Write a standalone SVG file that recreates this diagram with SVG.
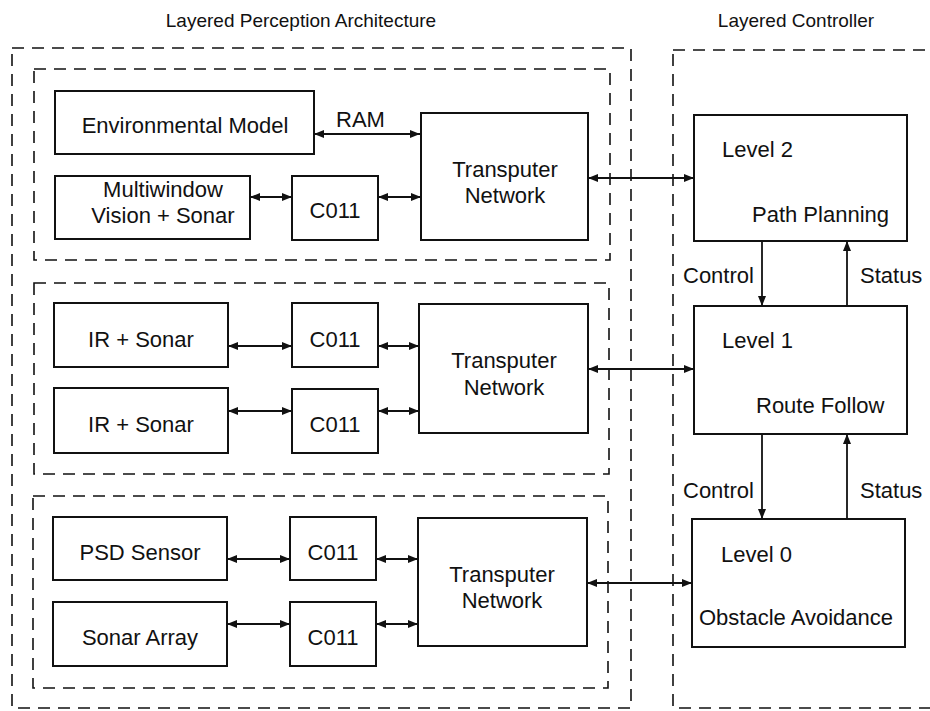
<svg xmlns="http://www.w3.org/2000/svg" width="930" height="711" viewBox="0 0 930 711">
<style>
  .bg{fill:#fff}
  .box{fill:#fff;stroke:#111;stroke-width:2}
  .dash{fill:none;stroke:#111;stroke-width:1.6;stroke-dasharray:12 8}
  .t{font-family:"Liberation Sans",Arial,sans-serif;font-size:22px;fill:#111}
  .title{font-family:"Liberation Sans",Arial,sans-serif;font-size:19px;fill:#111}
  .c{text-anchor:middle}
  .conn line{stroke:#111;stroke-width:1.8}
</style>
<defs>
  <marker id="ah" viewBox="0 0 10 8" refX="10" refY="4" markerWidth="10" markerHeight="8" markerUnits="userSpaceOnUse" orient="auto-start-reverse">
    <path d="M0,0 L10,4 L0,8 Z" fill="#111"/>
  </marker>
</defs>
<rect class="bg" x="0" y="0" width="930" height="711"/>

<text class="title c" x="301" y="27">Layered Perception Architecture</text>
<text class="title c" x="796" y="27">Layered Controller</text>

<g id="groups">
  <rect class="dash" x="12" y="48" width="619" height="660"/>
  <rect class="dash" x="673" y="50" width="300" height="658"/>
  <rect class="dash" x="34" y="69" width="576" height="191"/>
  <rect class="dash" x="34" y="283" width="575" height="191"/>
  <rect class="dash" x="33" y="496" width="575" height="192"/>
</g>

<g id="env-model"><rect class="box" x="55" y="91" width="259" height="63"/><text class="t c" x="185" y="133">Environmental Model</text></g>
<g id="multiwindow"><rect class="box" x="55" y="176" width="195" height="63"/><text class="t c" x="163" y="197">Multiwindow</text><text class="t c" x="163" y="223">Vision + Sonar</text></g>
<g id="c011-a"><rect class="box" x="292" y="176" width="86" height="64"/><text class="t c" x="335" y="218">C011</text></g>
<g id="tn-1"><rect class="box" x="421" y="113" width="167" height="127"/><text class="t c" x="505" y="177">Transputer</text><text class="t c" x="505" y="203">Network</text></g>

<g id="ir-1"><rect class="box" x="54" y="303" width="174" height="64"/><text class="t c" x="141" y="347">IR + Sonar</text></g>
<g id="c011-b"><rect class="box" x="292" y="303" width="86" height="64"/><text class="t c" x="335" y="347">C011</text></g>
<g id="ir-2"><rect class="box" x="54" y="388" width="174" height="65"/><text class="t c" x="141" y="432">IR + Sonar</text></g>
<g id="c011-c"><rect class="box" x="292" y="389" width="86" height="64"/><text class="t c" x="335" y="432">C011</text></g>
<g id="tn-2"><rect class="box" x="419" y="304" width="169" height="129"/><text class="t c" x="504" y="368">Transputer</text><text class="t c" x="504" y="395">Network</text></g>

<g id="psd"><rect class="box" x="53" y="517" width="174" height="63"/><text class="t c" x="140" y="560">PSD Sensor</text></g>
<g id="c011-d"><rect class="box" x="290" y="517" width="86" height="63"/><text class="t c" x="333" y="560">C011</text></g>
<g id="sonar-array"><rect class="box" x="53" y="602" width="174" height="64"/><text class="t c" x="140" y="645">Sonar Array</text></g>
<g id="c011-e"><rect class="box" x="290" y="602" width="86" height="64"/><text class="t c" x="333" y="645">C011</text></g>
<g id="tn-3"><rect class="box" x="418" y="518" width="169" height="128"/><text class="t c" x="502" y="582">Transputer</text><text class="t c" x="502" y="608">Network</text></g>

<g id="level-2"><rect class="box" x="694" y="115" width="213" height="126"/><text class="t" x="722" y="157">Level 2</text><text class="t" x="752" y="222">Path Planning</text></g>
<g id="level-1"><rect class="box" x="694" y="306" width="213" height="128"/><text class="t" x="722" y="348">Level 1</text><text class="t" x="756" y="413">Route Follow</text></g>
<g id="level-0"><rect class="box" x="692" y="519" width="213" height="128"/><text class="t" x="721" y="562">Level 0</text><text class="t" x="699" y="625">Obstacle Avoidance</text></g>

<g id="connectors" class="conn">
  <line x1="314" y1="134" x2="420" y2="134" marker-start="url(#ah)" marker-end="url(#ah)"/>
  <line x1="250" y1="197" x2="292" y2="197" marker-start="url(#ah)" marker-end="url(#ah)"/>
  <line x1="378" y1="197" x2="421" y2="197" marker-start="url(#ah)" marker-end="url(#ah)"/>
  <line x1="588" y1="178" x2="694" y2="178" marker-start="url(#ah)" marker-end="url(#ah)"/>
  <line x1="228" y1="346" x2="292" y2="346" marker-start="url(#ah)" marker-end="url(#ah)"/>
  <line x1="378" y1="346" x2="419" y2="346" marker-start="url(#ah)" marker-end="url(#ah)"/>
  <line x1="228" y1="411" x2="292" y2="411" marker-start="url(#ah)" marker-end="url(#ah)"/>
  <line x1="378" y1="411" x2="419" y2="411" marker-start="url(#ah)" marker-end="url(#ah)"/>
  <line x1="588" y1="369" x2="694" y2="369" marker-start="url(#ah)" marker-end="url(#ah)"/>
  <line x1="227" y1="559" x2="290" y2="559" marker-start="url(#ah)" marker-end="url(#ah)"/>
  <line x1="376" y1="559" x2="418" y2="559" marker-start="url(#ah)" marker-end="url(#ah)"/>
  <line x1="227" y1="624" x2="290" y2="624" marker-start="url(#ah)" marker-end="url(#ah)"/>
  <line x1="376" y1="624" x2="418" y2="624" marker-start="url(#ah)" marker-end="url(#ah)"/>
  <line x1="587" y1="583" x2="692" y2="583" marker-start="url(#ah)" marker-end="url(#ah)"/>
  <line x1="762" y1="241" x2="762" y2="306" marker-end="url(#ah)"/>
  <line x1="847" y1="306" x2="847" y2="241" marker-end="url(#ah)"/>
  <line x1="762" y1="434" x2="762" y2="519" marker-end="url(#ah)"/>
  <line x1="847" y1="519" x2="847" y2="434" marker-end="url(#ah)"/>
  <text class="t" x="336" y="127" font-size="21">RAM</text>
  <text class="t" x="683" y="283">Control</text>
  <text class="t" x="860" y="283">Status</text>
  <text class="t" x="683" y="498">Control</text>
  <text class="t" x="860" y="498">Status</text>
</g>
</svg>
